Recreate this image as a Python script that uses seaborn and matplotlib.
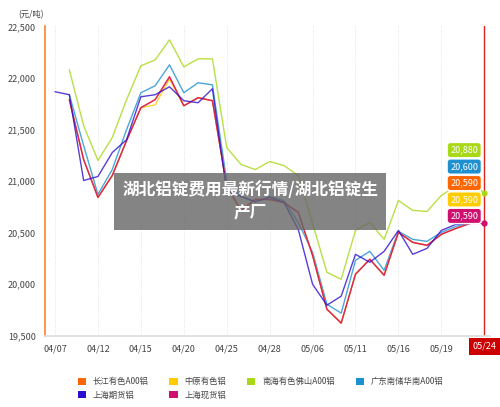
import matplotlib
matplotlib.use("Agg")
import matplotlib.pyplot as plt
import seaborn as sns
import numpy as np
import pandas as pd
from matplotlib.ticker import FuncFormatter
from matplotlib.patches import Patch

sns.set_theme(style="white")
plt.rcParams['font.family'] = ['Noto Sans CJK SC', 'DejaVu Sans']

tick_labels = ["04/07", "04/12", "04/15", "04/20", "04/25", "04/28", "05/06", "05/11", "05/16", "05/19", "05/24"]
changjiang = [None, 21790, 21209, 20842, 21054, 21393, 21712, 21790, 22012, 21731, 21809, 21780, 20950, 20716, 20822, 20822, 20793, 20697, 20280, 19758, 19623, 20097, 20242, 20087, 20503, 20406, 20377, 20484, 20540, 20590, None]
zhongyuan = [None, 21790, 21209, 20842, 21054, 21393, 21712, 21740, 21990, 21731, 21809, 21780, 20950, 20716, 20822, 20822, 20793, 20697, 20280, 19758, 19623, 20097, 20242, 20087, 20503, 20406, 20377, 20484, 20540, 20590, None]
nanhai = [None, 22080, 21538, 21200, 21422, 21790, 22118, 22176, 22370, 22108, 22186, 22186, 21325, 21161, 21112, 21190, 21151, 21054, 20590, 20116, 20048, 20522, 20600, 20435, 20812, 20716, 20706, 20861, 20950, 21017, 20880]
guangdong = [None, 21838, 21345, 20871, 21112, 21499, 21857, 21925, 22128, 21857, 21954, 21934, 21000, 20850, 20800, 20850, 20810, 20600, 20309, 19806, 19719, 20232, 20319, 20135, 20513, 20435, 20416, 20503, 20560, 20600, None]
shfutures = [21867, 21838, 21006, 21045, 21277, 21402, 21818, 21838, 21915, 21780, 21760, 21896, 20900, 20850, 20800, 20842, 20793, 20532, 20000, 19797, 19884, 20290, 20213, 20319, 20522, 20290, 20348, 20522, 20580, 20590, None]
shspot = [None, 21790, 21209, 20842, 21054, 21393, 21712, 21790, 22012, 21731, 21809, 21780, 20950, 20716, 20822, 20822, 20793, 20697, 20280, 19758, 19623, 20097, 20242, 20087, 20503, 20406, 20377, 20484, 20540, 20590, 20590]
end_labels = ["20,880", "20,600", "20,590", "20,590", "20,590"]

names = ["长江有色A00铝", "中原有色铝", "南海有色佛山A00铝", "广东南储华南A00铝", "上海期货铝", "上海现货铝"]
colors = ["#FF6600", "#FFCC00", "#A8D818", "#1E90D0", "#2B0FCF", "#D0106F"]
series = [changjiang, zhongyuan, nanhai, guangdong, shfutures, shspot]

rows = []
for name, vals in zip(names, series):
    for i, v in enumerate(vals):
        rows.append({"i": i, "v": np.nan if v is None else v, "s": name})
df = pd.DataFrame(rows)

fig = plt.figure(figsize=(5, 4.07), dpi=100)
ax = fig.add_axes([0.09, 0.175, 0.89, 0.76])
order = [2, 3, 1, 0, 5, 4]
for k in order:
    d = df[df.s == names[k]]
    sns.lineplot(data=d, x="i", y="v", ax=ax, color=colors[k], lw=1.0, alpha=0.8, legend=False)

ax.set_xlim(-0.7, 30.4)
ax.set_ylim(19500, 22500)
ax.set_yticks(np.arange(19500, 22501, 500))
ax.yaxis.set_major_formatter(FuncFormatter(lambda v, p: f"{int(v):,}"))
ax.set_xticks(range(0, 31, 3))
ax.set_xticklabels(tick_labels[:-1] + [""])
ax.tick_params(labelsize=6.5, colors="#444444", length=3)
ax.set_xlabel(""); ax.set_ylabel("")
for t in range(0, 31, 3):
    ax.axvline(t, color="#dddddd", lw=0.6, ls=":", zorder=0)
for sp in ["top", "right"]:
    ax.spines[sp].set_visible(False)
ax.spines["left"].set_color("#FF8833")
ax.spines["bottom"].set_color("#dddddd")
ax.text(-0.06, 1.03, "(元/吨)", transform=ax.transAxes, fontsize=6, color="#444444")

# crosshair at latest point
ax.axvline(30, color="#dd2222", lw=1)
ax.plot([30], [nanhai[30]], "o", color=colors[2], ms=3.5)
ax.plot([30], [shspot[30]], "o", color=colors[5], ms=3.5)
ax.text(30, 19440, tick_labels[-1], ha="center", va="top", fontsize=6.5, color="white",
        bbox=dict(boxstyle="square,pad=0.4", fc="#CC0000", ec="none"), clip_on=False)
lab_cols = [colors[2], colors[3], colors[0], colors[1], colors[5]]
for j, (t, c) in enumerate(zip(end_labels, lab_cols)):
    y = 22500 - (151 + j * 16.5 - 27) / 0.1034
    ax.text(28.6, y, t, ha="center", va="center", fontsize=6.5, color="white",
            bbox=dict(boxstyle="round,pad=0.35", fc=c, ec="white"))

leg_idx = [0, 4, 1, 5, 2, 3]
handles = [Patch(fc=colors[k], ec="none") for k in leg_idx]
fig.legend(handles, [names[k] for k in leg_idx], loc="lower left", bbox_to_anchor=(0.14, 0.0), ncol=4,
           frameon=False, fontsize=6, handlelength=1.0, handleheight=1.0, columnspacing=2.5,
           labelcolor="#444444")

fig.text(0.5, 0.505, "湖北铝锭费用最新行情/湖北铝锭生\n产厂", ha="center", va="center", fontsize=12,
         fontweight="bold", color="white", linespacing=1.3,
         bbox=dict(boxstyle="square,pad=0.5", fc="#666666", ec="none", alpha=0.8))
fig.savefig("out.png", dpi=100)
